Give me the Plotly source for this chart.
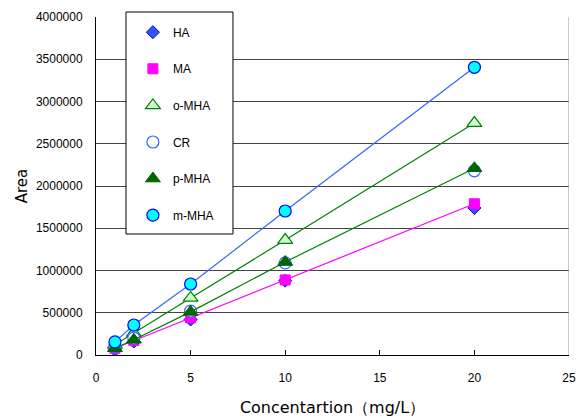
import plotly.graph_objects as go

conc = [1, 2, 5, 10, 20]
series_names = ["HA", "MA", "o-MHA", "CR", "p-MHA", "m-MHA"]
ha = [60000, 160000, 420000, 880000, 1740000]
ma = [80000, 170000, 440000, 888000, 1790000]
o_mha = [120000, 260000, 675000, 1360000, 2745000]
cr = [100000, 200000, 520000, 1090000, 2180000]
p_mha = [80000, 180000, 510000, 1100000, 2210000]
m_mha = [155000, 355000, 840000, 1704000, 3405000]

x_ticks = [0, 5, 10, 15, 20, 25]
y_ticks = [0, 500000, 1000000, 1500000, 2000000, 2500000, 3000000, 3500000, 4000000]

FONT = "Liberation Sans, Arial, sans-serif"
TITLE_FONT = "DejaVu Sans, sans-serif"

markers = {
    "HA": dict(symbol="diamond", size=10, color="#3355FF", line=dict(color="#0000CC", width=1)),
    "MA": dict(symbol="square", size=10, color="#FF00FF", line=dict(color="#FF00FF", width=1)),
    "o-MHA": dict(symbol="triangle-up", size=13, color="#CCFFCC", line=dict(color="#008000", width=1.2)),
    "CR": dict(symbol="circle", size=12, color="white", line=dict(color="#3366FF", width=1.2)),
    "p-MHA": dict(symbol="triangle-up", size=13, color="#006400", line=dict(color="#006400", width=1)),
    "m-MHA": dict(symbol="circle", size=12, color="#00FFFF", line=dict(color="#0000FF", width=1.2)),
}
line_colors = {"MA": "#FF00FF", "o-MHA": "#008000", "p-MHA": "#008000", "m-MHA": "#3366FF"}

values = {"HA": ha, "MA": ma, "o-MHA": o_mha, "CR": cr, "p-MHA": p_mha, "m-MHA": m_mha}

fig = go.Figure()
for name in series_names:
    if name in line_colors:
        fig.add_trace(go.Scatter(x=conc, y=values[name], mode="lines", showlegend=False,
                                 line=dict(color=line_colors[name], width=1.2),
                                 hoverinfo="skip"))
    fig.add_trace(go.Scatter(x=conc, y=values[name], name=name, legendgroup=name,
                             mode="markers", marker=markers[name]))

fig.update_layout(
    width=578, height=418,
    margin=dict(l=96, r=9, t=17, b=63),
    paper_bgcolor="white", plot_bgcolor="white",
    font=dict(family=FONT, size=12, color="black"),
    showlegend=True,
    legend=dict(x=0.078, y=0.998, xanchor="left", yanchor="top",
                bgcolor="rgba(0,0,0,0)", borderwidth=0, itemwidth=30,
                font=dict(family=FONT, size=12, color="black"),
                tracegroupgap=17.6, itemsizing="trace"),
    xaxis=dict(range=[0, 25], tickvals=x_ticks, ticks="inside", ticklen=5,
               tickcolor="black", showline=True, linecolor="black", linewidth=1,
               showgrid=False, zeroline=False, automargin=False, ticklabelstandoff=12,
               title=dict(text="Concentartion（mg/L）", font=dict(family=TITLE_FONT, size=16),
                          standoff=17),
               tickfont=dict(size=12)),
    yaxis=dict(range=[0, 4000000], tickvals=y_ticks, ticks="", showline=True,
               linecolor="black", linewidth=1, showgrid=True, gridcolor="#444444",
               gridwidth=1, zeroline=False, tickformat="d", automargin=False,
               ticklabelstandoff=10,
               title=dict(text="Area", font=dict(family=TITLE_FONT, size=15), standoff=4),
               tickfont=dict(size=12)),
    shapes=[
        dict(type="line", xref="x", yref="paper", x0=25, x1=25, y0=0, y1=1,
             line=dict(color="#999999", width=1)),
        dict(type="rect", xref="paper", yref="paper", x0=0.0634, x1=0.2896,
             y0=0.358, y1=1.0148, fillcolor="white",
             line=dict(color="black", width=1), layer="above"),
    ],
)

fig.write_html("out.html", config={"displayModeBar": False},
               post_script="document.body.style.margin='0';document.body.style.padding='0';")
